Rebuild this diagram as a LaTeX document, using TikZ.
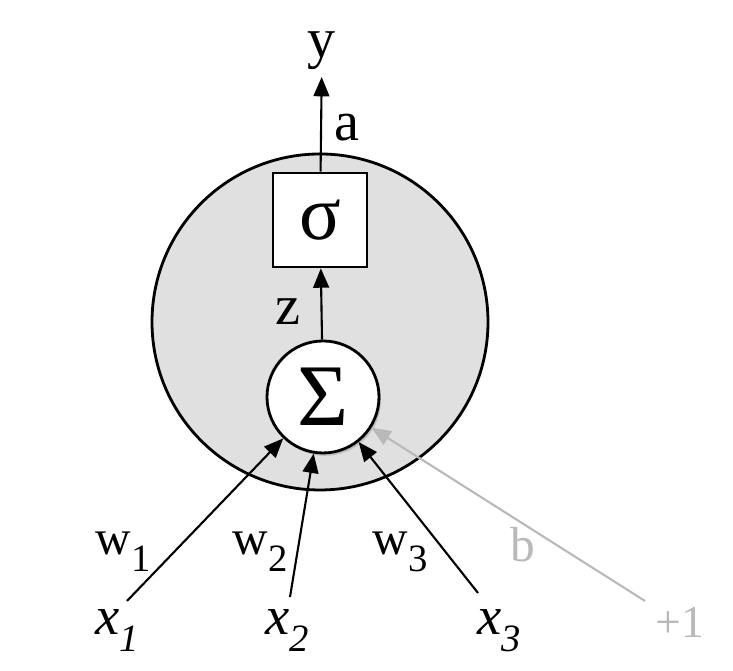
\documentclass[tikz,border=0pt]{standalone}
\usepackage{fontspec}
\setmainfont{Liberation Serif}
\usetikzlibrary{arrows.meta, shadows}
\definecolor{mgray}{RGB}{185,185,185}
\definecolor{cellfill}{RGB}{224,224,224}
\newcommand{\lowsub}[1]{\raisebox{-4.8pt}{\fontsize{11}{11}\selectfont #1}}

\begin{document}
\begin{tikzpicture}[
  lbl/.style={font=\fontsize{16}{18}\selectfont,inner sep=0pt},
  wlbl/.style={font=\fontsize{14}{16}\selectfont,inner sep=0pt,anchor=base west},
  inp/.style={font=\fontsize{15.5}{18}\selectfont\itshape,inner sep=0pt,anchor=base west},
  sq/.style={draw,fill=white,line width=0.8pt,minimum size=0.94cm,inner sep=0pt,
             font=\fontsize{22}{22}\selectfont},
  sumnode/.style={circle,draw,fill=white,line width=0.8pt,minimum size=1.12cm,inner sep=0pt,
             font=\fontsize{25}{25}\selectfont,
             drop shadow={shadow xshift=0.6pt,shadow yshift=-0.8pt,opacity=0.35}},
  arr/.style={-{Triangle[length=5.5pt,width=4.5pt]},line width=0.6pt}
]
\useasboundingbox (0,0) rectangle (7.33,6.71);
\node[circle,draw,fill=cellfill,line width=0.8pt,minimum size=3.36cm] (cell) at (3.20,3.49) {};
\node[sq] (act) at (3.20,4.51) {σ};
\node[sumnode] (sum) at (3.23,2.74) {Σ};
\node[lbl,anchor=south,inner sep=2pt] (y) at (3.22,5.94) {y};
\node[lbl] (a) at (3.47,5.43) {a};
\node[lbl] (z) at (2.88,3.59) {z};
% inputs
\node[inp] (x1) at (0.95,0.36) {x\lowsub{1}};
\node[inp] (x2) at (2.65,0.36) {x\lowsub{2}};
\node[inp] (x3) at (4.77,0.36) {x\lowsub{3}};
\node[wlbl,font=\fontsize{13}{15}\selectfont,text=mgray] (one) at (6.55,0.33) {+1};
\node[wlbl] (w1) at (0.95,1.16) {w\lowsub{1}};
\node[wlbl] (w2) at (2.32,1.16) {w\lowsub{2}};
\node[wlbl] (w3) at (3.72,1.16) {w\lowsub{3}};
\node[wlbl,text=mgray] (b) at (5.10,1.09) {b};
\coordinate (t1) at (1.27,0.70);
\coordinate (t2) at (2.90,0.74);
\coordinate (t3) at (4.78,0.78);
\coordinate (tb) at (6.45,0.70);
\draw[arr] (t1) -- (sum);
\draw[arr] (t2) -- (sum);
\draw[arr] (t3) -- (sum);
\draw[arr,mgray] (tb) -- (sum);
\draw[arr] (sum) -- (act);
\draw[arr] (act) -- (y);
\end{tikzpicture}
\end{document}
